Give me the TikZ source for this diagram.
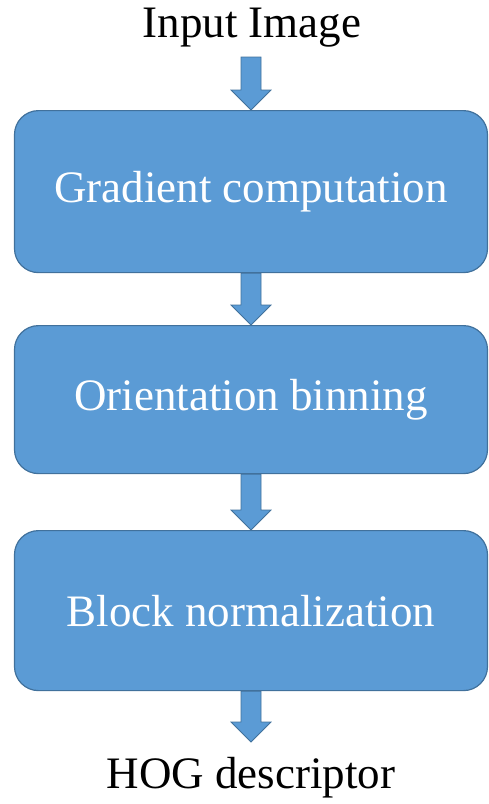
\documentclass[tikz,border=0pt]{standalone}
\usepackage{fontspec}
\setmainfont{Liberation Serif}
\usetikzlibrary{calc}
\definecolor{boxfill}{HTML}{5B9BD5}
\definecolor{boxline}{HTML}{41719C}
\tikzset{
  stepbox/.style={draw=boxline, line width=1.2pt, fill=boxfill, rounded corners=24pt,
    minimum width=473pt, anchor=north, text=white, font=\fontsize{45}{50}\selectfont},
  label/.style={font=\fontsize{45}{50}\selectfont, text=black},
  flowarrow/.style={draw=boxline, line width=0.8pt, fill=boxfill, line join=miter}
}
% block arrow from point #1 down to point #2 (vertical)
\newcommand{\blockarrow}[2]{%
  \path let \p1=(#1), \p2=(#2) in
    [flowarrow] (\x1-10pt,\y1) -- (\x1+10pt,\y1) -- (\x1+10pt,\y2+20pt) -- (\x1+20pt,\y2+20pt)
    -- (\x1,\y2) -- (\x1-20pt,\y2+20pt) -- (\x1-10pt,\y2+20pt) -- cycle;}
\begin{document}
\begin{tikzpicture}[x=1pt,y=1pt]
\useasboundingbox (0,0) rectangle (489,-804);
\node[label] (in) at (252,-28) {Input Image};
\node[stepbox, minimum height=162pt] (b1) at (251,-110) {Gradient computation};
\node[stepbox, minimum height=148pt] (b2) at (251,-325) {Orientation binning};
\node[stepbox, minimum height=160pt] (b3) at (251,-530) {Block normalization};
\node[label] (out) at (251,-778) {HOG descriptor};
\coordinate (a1s) at (251,-57);
\coordinate (a4e) at (251,-742);
\blockarrow{a1s}{b1.north}
\blockarrow{b1.south}{b2.north}
\blockarrow{b2.south}{b3.north}
\blockarrow{b3.south}{a4e}
\end{tikzpicture}
\end{document}
